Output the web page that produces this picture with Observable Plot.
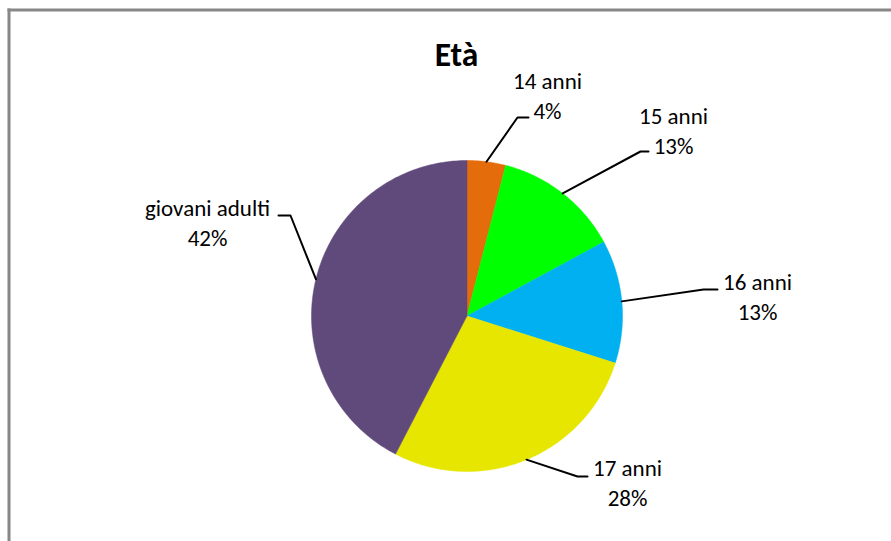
<!DOCTYPE html>
<html>
<head>
<meta charset="utf-8">
<script src="https://cdn.jsdelivr.net/npm/d3@7"></script>
<script src="https://cdn.jsdelivr.net/npm/@observablehq/plot@0.6"></script>
<style>
  html, body { margin: 0; padding: 0; background: #fff; }
  #chart svg { display: block; }
</style>
</head>
<body>
<div id="chart"></div>
<script>
// ---- data ----
const categories = ["14 anni", "15 anni", "16 anni", "17 anni", "giovani adulti"];
const percentages = [4.0, 13.1, 12.8, 27.7, 42.4];
const colors = ["#E46C0A", "#00FF00", "#00B0F0", "#E6E600", "#604A7B"];
const title = "Età";

// ---- layout (pixels relative to the pie centre) ----
const W = 891, H = 541;
const cx = 466.5, cy = 315.5, R = 155.5;
const mLeft = 8.5, mTop = 9.5;
// label text anchor (centre x, baseline of last line) and leader elbow / tick end
const labelPos = [[80.5, -197.5], [206.5, -162.5], [290.5, 3.5], [160.5, 189.5], [-259.5, -70.5]];
const elbowPos = [[50.5, -198.5], [173.5, -164.5], [236.5, -26.5], [110.5, 160.5], [-176.5, -100.5]];
const tickEnd  = [[61.5, -198.5], [181.5, -164.5], [250.5, -26.5], [120.5, 160.5], [-188.5, -100.5]];

const total = d3.sum(percentages);
const pie = d3.pie().sort(null).value(d => d.value)
  .startAngle(0).endAngle(2 * Math.PI);
const rows = categories.map((c, i) => ({label: c, value: percentages[i], i}));
const arcs = pie(rows);

// slice polygons
const slicePts = [];
for (const a of arcs) {
  const n = Math.max(4, Math.ceil((a.endAngle - a.startAngle) / (Math.PI / 180)));
  slicePts.push({label: a.data.label, px: 0, py: 0});
  for (let k = 0; k <= n; k++) {
    const t = a.startAngle + (a.endAngle - a.startAngle) * k / n;
    slicePts.push({label: a.data.label, px: R * Math.sin(t), py: -R * Math.cos(t)});
  }
  slicePts.push({label: a.data.label, px: 0, py: 0});
}

// leader lines
const leaderPts = [];
arcs.forEach((a, i) => {
  const m = (a.startAngle + a.endAngle) / 2;
  leaderPts.push({label: a.data.label, px: R * Math.sin(m), py: -R * Math.cos(m)});
  leaderPts.push({label: a.data.label, px: elbowPos[i][0], py: elbowPos[i][1]});
  leaderPts.push({label: a.data.label, px: tickEnd[i][0], py: tickEnd[i][1]});
});

const labels = arcs.map((a, i) => ({
  text: `${a.data.label}\n${Math.round(a.data.value / total * 100)}%`,
  px: labelPos[i][0], py: labelPos[i][1]
}));

const font = "Carlito, Calibri, Lato, 'Open Sans', sans-serif";

const chart = Plot.plot({
  width: W, height: H,
  marginLeft: mLeft, marginTop: mTop, marginRight: 0, marginBottom: 0,
  x: {domain: [mLeft - cx, W - cx], axis: null},
  y: {domain: [mTop - cy, H - cy], range: [mTop, H], axis: null},
  color: {domain: categories, range: colors},
  style: {fontFamily: font, background: "#fff"},
  marks: [
    Plot.frame({anchor: "top", stroke: "#878787", strokeWidth: 3, strokeOpacity: 1}),
    Plot.frame({anchor: "left", stroke: "#878787", strokeWidth: 3, strokeOpacity: 1}),
    Plot.line(slicePts, {x: "px", y: "py", z: "label", fill: "label", stroke: "label", strokeWidth: 0.5, curve: "linear"}),
    Plot.line(leaderPts, {x: "px", y: "py", z: "label", stroke: "#000", strokeWidth: 2, curve: "linear"}),
    Plot.text(labels, {x: "px", y: "py", text: "text", lineAnchor: "bottom", lineHeight: 1.3,
      fontSize: 23, fill: "#000", textAnchor: "middle"}),
    Plot.text([title], {x: [456 - cx], y: [65 - cy], text: d => d, lineAnchor: "bottom",
      fontSize: 33.5, fontWeight: "bold", fill: "#000", textAnchor: "middle"})
  ]
});
document.getElementById("chart").append(chart);
</script>
</body>
</html>
